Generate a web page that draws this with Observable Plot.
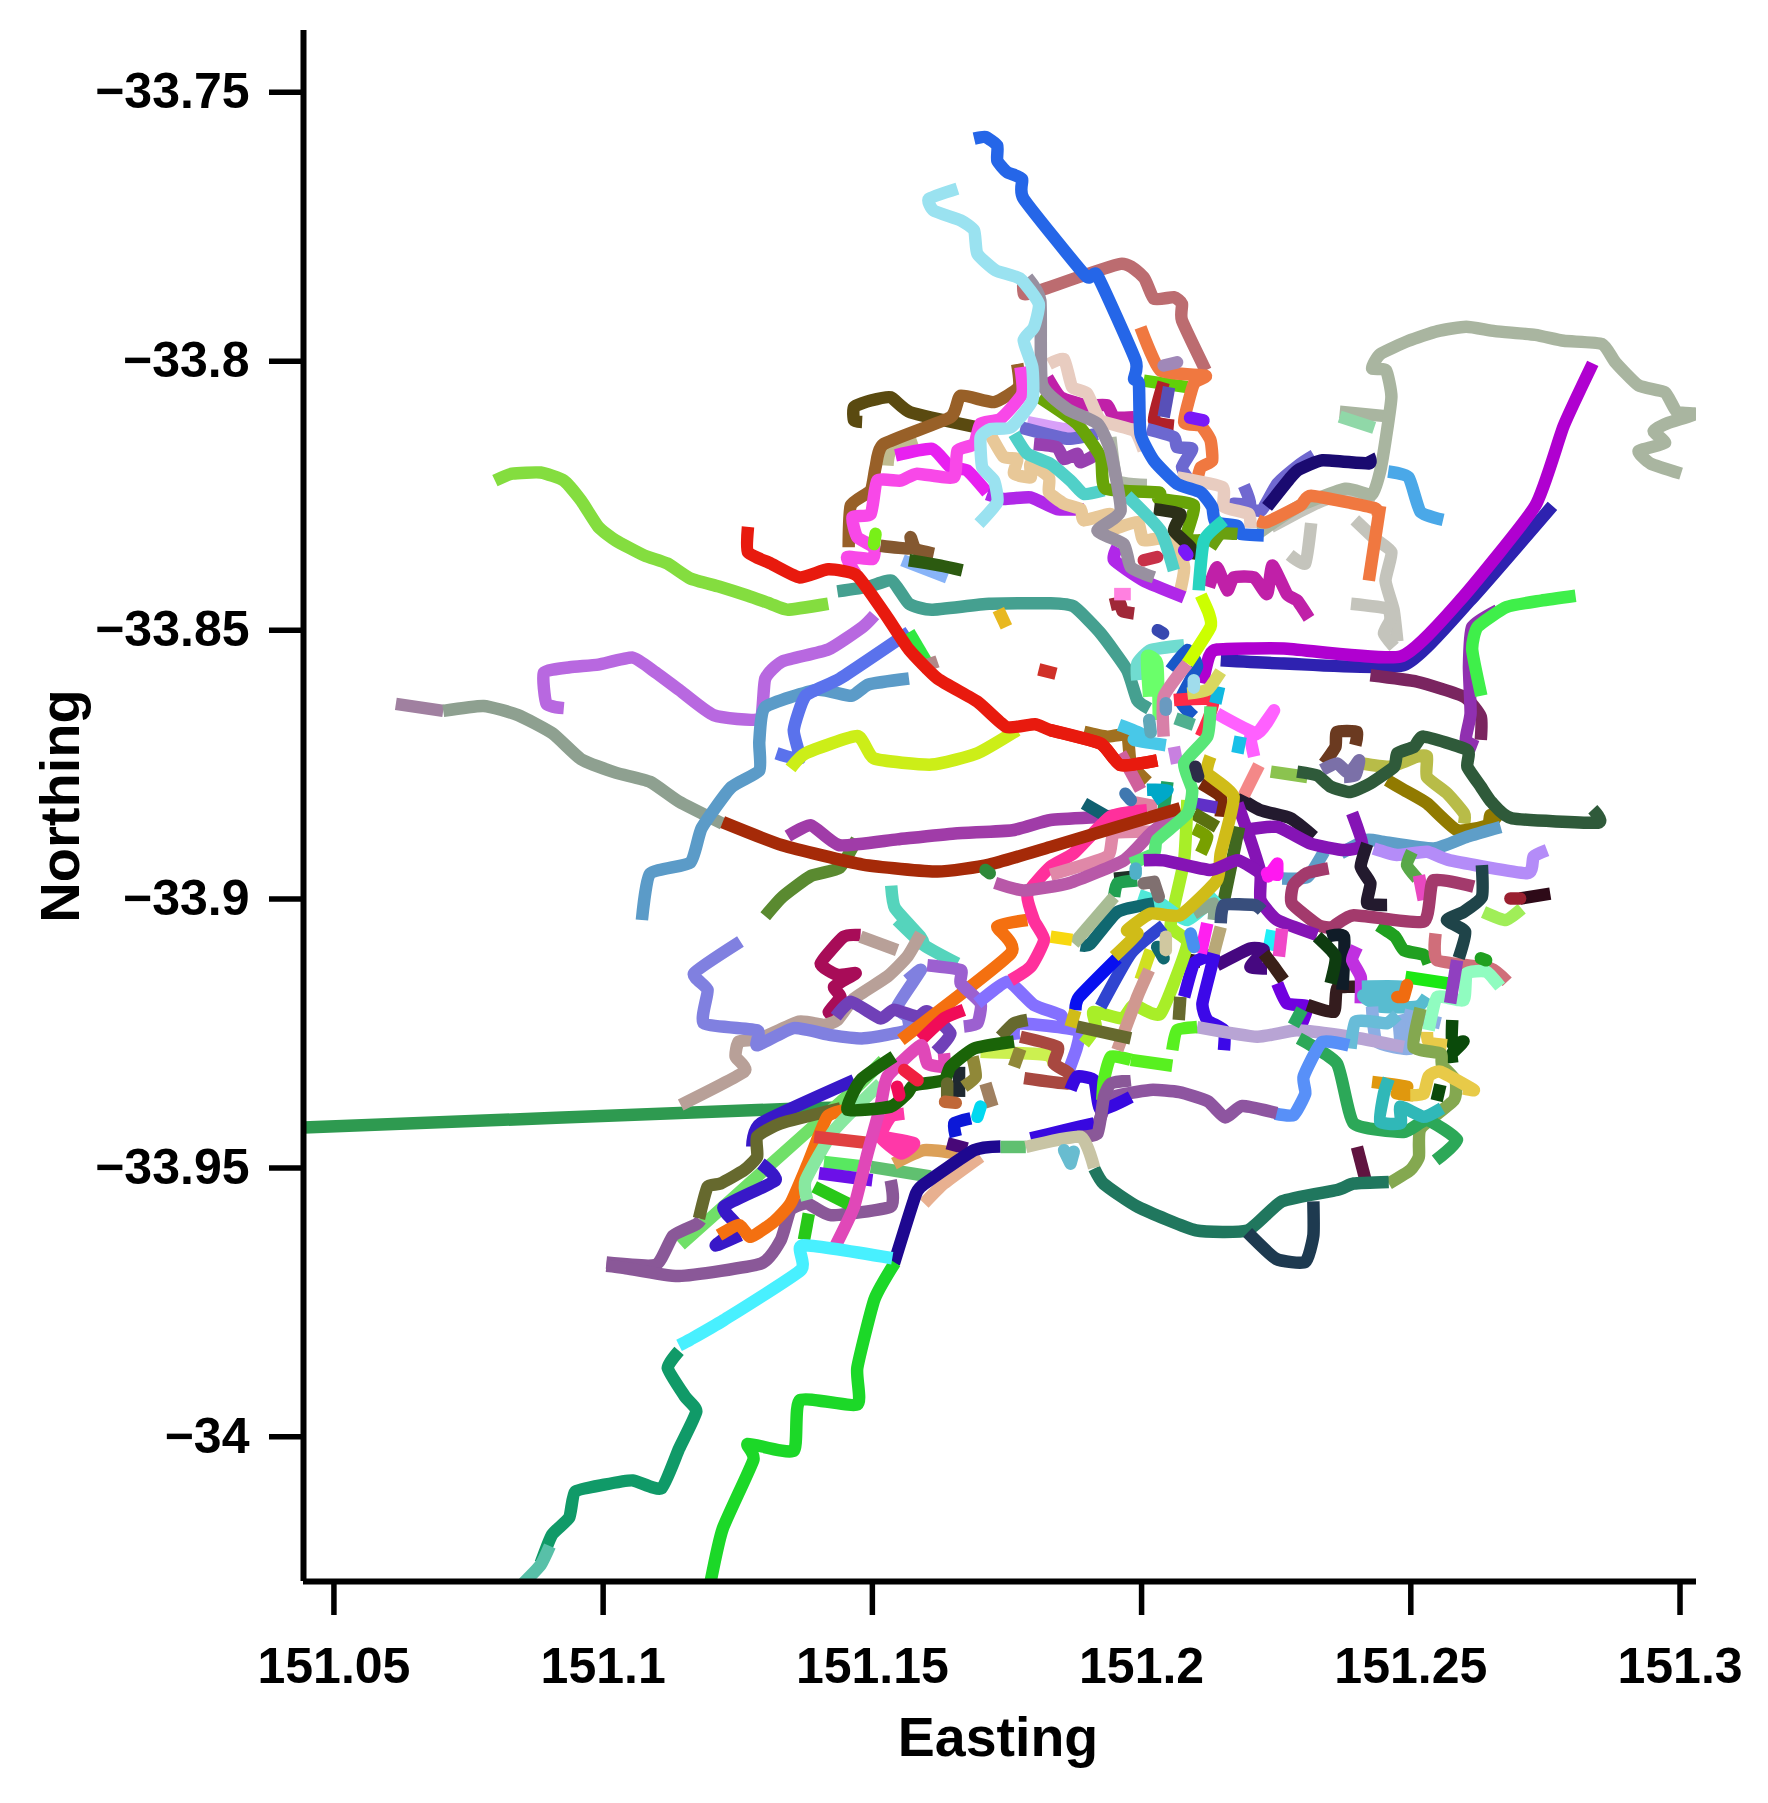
<!DOCTYPE html>
<html><head><meta charset="utf-8">
<style>html,body{margin:0;padding:0;background:#fff}svg{display:block}</style>
<script src="https://cdn.jsdelivr.net/npm/d3@7"></script>
<script src="https://cdn.jsdelivr.net/npm/@observablehq/plot@0.6"></script>
</head><body><div id="chart"></div>
<script>
// Route vertices, flat "e,n" pairs in milli-degrees: easting = 151 + e/1000, northing = -33 - n/1000
const xTicks=[151.05,151.1,151.15,151.2,151.25,151.3];
const yTicks=[-33.75,-33.8,-33.85,-33.9,-33.95,-34];
const xDomain=[151.04435,151.30306];
const yDomain=[-34.0269,-33.7385];

const westPoints=[
[61.5,863.7,70.3,865],
[70.3,865,77.8,864.1,84.2,865.8,90.6,869.2,95.9,874,102.3,876.5,108.7,878.2,114.1,881.9,122.2,886],
[79.9,822.2,83.1,820.9,88.4,820.7,92.7,822.2,95.9,825.9,99.1,830.8,102.3,833.3,107.6,836.1,111.9,837.6,116.2,840.4,121.5,841.9,126.9,843.6,131.1,845.1,134.3,846.2,141.8,845.1],
[92.7,864.5,89.5,863.7,89,857.9,93.8,856.9,99.1,856.4,105.5,855.1,109.8,857.9,114.1,861.1,120.5,865.8,129,866.5,130.1,859,133.3,855.8,141.8,853.6,148.2,849.4,150.4,847.2],
[143.5,842.8,149.3,841.9,153.6,840.8,156.8,845.1,161,846.2,171.7,845.1,183.1,845,187.4,845.6,192.4,850.6,197.3,857.4,199.2,863,201.4,864.6],
[107.2,903.9,108.7,895.3,116.2,893.2,118.3,886.8,123.7,879.3,129,876.1,129,870.7,130.1,864.3,139.7,861.1,146.1,862.2,149.3,860.1,156.8,859],
[132.2,872.9,136.5,873.9,135.4,868.6,137.6,862.2,144,859,156.8,850.4],
[156.8,850.4,160,855.8],
[134.8,875.7,137.6,872.9,147.2,869.7,150.4,873.9,161,875,169.5,872.9,176.9,868.6],
[158.9,856.9,162.1,855.8],
[44.4,942.5,137.5,938.9,147.1,939.1],
[130.1,903.2,133.3,899.6,138.6,895.7,143.9,894.2,147.1,888.9],
[134.3,888.3,138.6,886.3,143.9,890,154.6,888.9,165.3,887.8,176,887.2,183.1,885.3,193,884.7,198.4,884.2],
[171,894.6,171.8,895.2],
[173.4,846.2,174.9,849.4],
[180.9,857.3,184.1,858.1],
[194.2,845.3,196,845,196.5,846.5,198.6,846.9],
[203,850,204,850.6]
];
const westColors=["#A080A0","#8EA090","#84DD3F","#B868E0","#45A090","#5B9BC8","#5A72EC","#30E840","#CCEE18","#B08888","#2E9A50","#5A8A30","#A03CA8","#2E8A3A","#E8B820","#D03028","#A02838","#3848B0"];

const northPoints=[
[155.6,837,163.9,840.2],
[148.1,811.3,146.6,811,146.6,808.5,149.7,807.3,153.4,806.7,157.1,809.5,169.5,812.3],
[158.3,814.7,153.4,816.6,152.8,819.4],
[176.9,800.5,177.2,804.8,172.6,807.6,166.4,806.4,164.5,810.4,152.1,815.4,150.6,819.7,149.7,824,146,826.8,145.6,834.6],
[154.3,817.5,161.1,816.3,164.5,819.7,167.6,820.3,171.3,824.4],
[177.5,801.1,177.8,806.1,173.8,810.7,170.1,811.6,168.9,815.4,165.8,816.6,165.1,821.6,158.3,820.9,155.2,822.2,150.9,822.2,149.7,828.4,146.3,829,147.2,832.7,150.3,834.6,150,836.8,145.3,836.4,146.9,839.5],
[151.5,834.3,157.1,834.8,157.1,832.7,158,834.9,161.4,835.8],
[156.8,837,162.7,838,166.7,838.9],
[150.6,832.1,150.3,834],
[171.3,824.7,174.4,825.6,179.4,825.3,184.3,827.5,189.3,827.5],
[178.8,811.3,185.6,812.6,188.7,812.6],
[177.5,812.3,186.2,814.4,191.8,813.5],
[180,815.4,184.3,816,185.6,818.2,188,817.2,188.7,818.8,191.8,817.2],
[182.5,803,185,806.7,189.9,808.2,193.6,808.2,194.9,810.4,198.6,810.4],
[172,813.8,174.4,817.8,176.9,818.2,176.3,820.9,179.4,821.6,179.4,819.1,182.8,821.6,182.8,824.4,185.6,826.5,188.7,827.5,189.3,829.6,194.2,828.4,193.6,831.5,199.2,829.9,200.4,833.3,206,832.7,207.9,838.3,207.2,842.6],
[176.3,813.5,178.8,817.2,183.1,819.1,186.8,822.2,189.3,824.7,193,824],
[182.8,800.5,185.6,799.6,187.1,804.8,189.9,806,192.4,811,198.6,812.9,200.4,816.6],
[194.2,814.1,195.5,822.2,201,823],
[178.1,784.4,178.1,787.5,181.2,786.8,196.1,781.9,200.4,784.4,202.3,788.4,206,788.1,207.5,789.3,207.5,792.4,211.9,801.7],
[200.4,803.6,208.5,804.8],
[204.1,803.9,202.3,811,206,812],
[205.1,804.8,204.1,810.4],
[204.1,800.8,206.6,800.2],
[201,812.6,206,814.1,206.6,816,209.4,816.3,207.5,819.7,208.8,822.2],
[209,810.5,211.5,811],
[199.8,793.7,203.5,801.7,211.9,802.7,209.7,804.2,207.9,811.3,211,812,212.8,814.7,213.1,818.5,211,819.7,210.3,822.2],
[181,806.7,188,811.6,192.4,817.8,193.3,823.7,203.2,824.4,203.2,825.6,209.7,826.8,208.2,833,211,833.3],
[202.3,827.5,207.2,828.4,206,831.5,209.1,834.6,209.1,836.8],
[207.9,835.2,208.5,836],
[197.3,825,203.5,831.5,206,838.9],
[195.5,834.6,194.9,837,200.4,840.8,207.9,843.9],
[200.4,837,202.9,836.4],
[194.9,843.3,198,843.3],
[178.8,784.4,181.2,788.7,181.5,804.2,186.2,808.9,191.8,811.6,194.2,816.6,196.1,827.8,191.8,831.5,196.7,834,198,838.3,202.3,840.2],
[165.8,767.9,160.5,769.8,161.4,772,166.4,773.8,168.9,775.7,169.5,780,172.9,783.1,177.5,784.7,180.9,789.3,180,793.7,178.1,796.1,179.7,801.1,179.7,807.3,175.7,812.3,172,812.6,170.1,814.1,170.4,819.7,172.6,822.2,173.2,826.2,169.8,830.2],
[206.6,821.6,215,823.4,215.3,827.1,219.9,828.4,220.2,831],
[168.9,758.6,171,758.3,173.2,759.9,173.2,762.7,175,764.8,177.8,766.1,178.1,769.8,189.6,784.1,191.8,784.1,198.9,799.9,198.6,803.3,199.5,804.2,199.8,813.5,202.3,818.5,206.6,822.8,211,824.4,213.1,827.1,213.7,829.9,217.8,830.6,218.4,832.1,222.7,832.4],
[217.8,832.1,214.7,832.1,212.8,834.6],
[215.3,829.6,211.6,833.3,210.6,842.6]
];
const northColors=["#88B4F8","#5A4A10","#C0BC90","#986028","#E820F0","#F848E8","#845830","#2C5A10","#78F018","#B028E8","#D8A0F8","#6C68D0","#9840B0","#C020A8","#E8C898","#50D0C8","#E8CCC0","#B0B8A8","#BC6C70","#60D008","#B02028","#5850B8","#A088B8","#6C68D0","#7A18F8","#F07840","#68A408","#2C3018","#7A18F8","#50D0C8","#B028E8","#C83048","#FF80E0","#9890A0","#9AE2F0","#E8CCC0","#2566E8","#6AA010","#28D4C0"];

const northEastPoints=[
[236.8,809.4,245.3,810.2],
[236.8,810.3,243.2,812.4],
[224,830.8,229.3,828,233.6,825.9,236.8,825.2,243.2,826.5],
[239.6,829.5,243.2,832.9,246.4,835.5,245.3,840.8,246.8,846.2,247.5,852.1],
[238.9,845.1,245.6,846,246.2,848.1,245,850.6,246.9,853.1],
[231.5,830.1,230.4,837.6,227.5,836],
[245.8,820.5,249.6,821.6,251.8,828,256,829.5],
[221.9,831.8,229.3,826.9,237.9,823.7,242.8,824.8,244.3,820.5,245.4,814.1,246.4,806.6,245.4,801.7,242.8,801.3,244.3,798.7,249.6,796.2,255,794.4,260.3,793.6,265.6,794.4,273.1,795.1,278.4,796.2,285.5,796.8,288,800.2,292.3,804.5,297.2,805.8,299.4,809.4,303,809.8,297.7,811.5,295.1,813,297.2,815.2,292.3,816.7,294.5,819,300.2,820.9],
[219,823.1,220.2,826.5,217.1,826.5,222.1,827.8,225.2,822.8,229.5,819.1,232,817.5],
[223.3,827.1,227.7,821.6,229.3,820.1,233.6,818.4,242.2,819,242.2,817.5],
[221.5,829.6,223.3,829.9,229.5,826.8,231.5,825,243.2,827.3,243.8,829],
[244.3,826.9,242.2,840.8],
[212.5,842,214,838.3,215.9,842.6,217.1,840.2,220.9,840.2,223.3,843.3,224.3,838,227,843.3,228.9,844.5,231.1,847.8],
[261.1,844.4,276.3,826.9],
[214.7,855.6,226.4,856.2,248.7,856.5,261.1,844.4,276.3,826.9],
[211.3,859.9,212.5,855,214,853.6,226.4,853.4,248.1,854.9,259.2,844.4,273.1,826.9,278.4,812,283.8,800.4],
[242.5,858.4,251.2,859.6,259.9,862.4,263,866.1,263,870.4],
[266.1,846.3,261.4,849.4,260.8,856.8,261.1,865.5,260.2,870.4,262.3,871.7],
[280.6,843.6,274.2,844.5,267.8,845.7,262.4,849.4,261.4,853.6,263.1,862.2]
];
const northEastColors=["#A9B5A0","#90D8A8","#C4C4BC","#C4C4BC","#C4C4BC","#C4C4BC","#4AA8E8","#A9B5A0","#7068D0","#1A0A70","#F07840","#F07840","#C020A8","#B8E8F0","#2E22B0","#B000D0","#7A2560","#9030B0","#3FEF4A"];

const centrePoints=[
[207.9,852.8,201.7,853.7,199.2,856.2,199.2,859.3],
[205.4,857.4,208.5,853.7,210.3,856.8,207.2,863,209.7,866.1],
[201.4,862.4,201,854.9,202.9,856.2,203.2,866.7],
[208.5,856.2,204.1,862.4,204.1,869.8],
[206,863,213.4,863,211,869.8],
[214.4,860.5,213.7,863.6],
[214.7,857.7,212.2,861.1,208.5,861.8],
[209.7,859.3,209.7,860.7],
[206.3,866.4,209.7,867.6],
[189.3,868.9,193.6,869.8,197.3,869.5,198,874.8,201.1,878.2],
[196.1,872.9,199.8,879.7],
[197,880.4,198,881.6],
[198,881.9,202.9,882.8],
[204.8,878.2,204.1,883.5],
[201,879.7,204.8,879.7,202.3,881.6],
[214,865.5,221.5,869.2,224.6,864.9,221.5,869.2,220.2,869.8,220.9,873.5],
[218.4,869.8,217.8,872.9],
[221.8,875.1,219,880.7],
[210,875.4,210.5,877.2],
[211,878.5,214.7,881,214.7,884.7],
[209.7,882.2,214,883],
[209.7,884.1,214,886.6],
[209.7,886.9,212.2,888.4,211,891.5],
[183.1,868.6,192.4,871.1,196.1,875.1,202.9,874.2],
[126.9,830.8,126.9,835.5,131.1,837.6,136.5,840.2,141.8,838.7,147.1,839.8,152.5,847.2,156.8,853.6,162.1,859,169.5,863.3,174.9,868,180.2,867.5,183.1,868.6,192.4,871.1,196.1,875.1,202.9,874.2],
[195.8,867.6,199.8,869.2,198.6,870.4,204.5,871.4],
[201.4,866.7,201.7,869],
[204.5,863.6,204.5,864.8],
[206,871.7,206.6,874.8],
[189.3,882.2,193.6,884.7],
[175.7,915.1,179.4,912.6,181.9,907.6,180,903.9,178.8,899,183.1,894,187.4,891.5,194.2,884.7,201,883.5],
[183.1,895.5,193.6,892.1,194.9,887.8,201.7,887.5],
[172.8,897,178.1,898.4,186.6,897,196.7,892.8,201.7,887.8,207.2,883.5],
[122.2,885.7,133.3,890,148.2,893.6,162.1,894.9,171.7,893.6,183.1,890.3,207.2,883.1],
[208.5,881.6,207.9,892.8,205.4,904.9,208.5,908.3,203.5,921.3,198.6,919.7,196.4,922.2,191.1,921,191.5,923.8,189.3,926.9],
[212.8,864.2,212.2,869.8,207.9,874.8,209.4,879.7,208.5,884.1,202.9,889,202.3,891.5,198,893.4],
[198.9,894.3,198.9,895.3],
[208.5,856.2,212.8,849.4,212.5,846.9,211,843.5],
[194.9,896.2,198,895.9],
[194.9,899.6,195.5,897.1,199.2,896.5],
[200.4,897.1,202.3,896.8,203.2,899.6],
[218.1,886.6,215.3,900.2],
[199.5,899.3,203.5,900.8,208.5,903.9,214,899.3],
[209.7,902.7,213.4,900.8,213.4,903.9],
[214.7,904.5,215.3,901.1,220.9,901.1,222.4,902.1],
[202.3,900.8,195.5,902.4,190.5,908.3,188.7,908.6],
[194.9,899.6,187.4,908.3],
[183.1,907,187.1,907.6],
[201.7,909.5,199.8,915],
[201.4,913.2,199.2,918.2,195.5,928.1],
[204.1,904.9,198,910.1,192.4,920],
[195.5,911,188.4,918.2,187.7,920.7],
[187.7,920.7,186.8,923.8],
[194.9,910.7,199.2,906.4,197.3,905.8,201.7,902.7,207.2,903,214,896.5,214.7,891.5,217.1,881,212.2,876.6,212.8,873.5],
[202.9,908.9,204.1,911],
[204.5,907,204.5,909.5],
[209.1,906.4,209.7,908.9],
[214.7,905.2,213.4,910.1],
[212.2,904.5,211,910.1],
[207.2,918.2,206.9,922.5],
[188,923.7,198,925.9],
[200.4,892.8,204.1,892.8,212.8,894.6,217.8,892.8,222.1,895.2],
[223.3,895.2,225.2,895.5,225.2,893.4,223.5,895.8]
];
const centreColors=["#70DCD0","#1858C8","#6AFF6A","#D880A8","#FF2A48","#10B8E0","#D8D860","#A0DCEC","#50B090","#A07020","#D0609C","#4078B0","#E080A0","#20A060","#00A8C8","#FF60FF","#18C0E8","#F48888","#2C2C48","#7A2808","#6030C8","#5A7010","#78A000","#E81A0E","#E81A0E","#48C8E8","#60A8B8","#6A9AC0","#C880E0","#106070","#FF309C","#E088A8","#B858A8","#A52A08","#A8EE28","#58E678","#50B0C8","#CCFF00","#1F3228","#20A050","#807070","#406820","#50E8D8","#8CA890","#384E7C","#106870","#A8BC94","#F8D810","#D0E020","#D09890","#3044D0","#0810F0","#D0BC18","#D0BC18","#106870","#D0C8A0","#4890F0","#B8A878","#FF20F0","#66692E","#66692E","#8514B5","#FF18F0"];

const eastPoints=[
[224,876.3,230.8,877.3],
[241,874.8,246.2,875.4,251.2,873.5,253,873.5,253,877.3,256.8,880.4,259.9,884.1,259.9,886],
[233.9,874.8,236,871.7,236.3,868.9,240,868.9,239.7,871.4],
[233.5,876,236.3,874.8,238.5,876.6,240.4,874.2,239.7,877,237.6,877.3],
[245.6,877.9,248.7,879.7,253,882.2,258.6,887.2,264.2,886.3,264.8,884.4,266.7,885.6],
[228.9,876.3,232.6,877,235.1,879.1,238.8,880.1,242.5,878.5,246.9,875.4,247.5,872.9,250.6,871.7,252.4,869.8,260.5,872.3,260.5,875.4,263,879.1,265,882,268.8,885,284.8,885.8,283.8,883.3],
[266.7,886.6,260.5,888.4,254.3,890.6,245,889.4,241.9,889,237,891.5],
[233.9,891.2,230.8,895.9,226.1,896.2],
[217.8,881,222.1,883.5,227.7,885,232,888.4],
[243.1,890.6,247.4,891.8,253,891.2,257.3,892.8,271.6,895.2,272.8,892.1,275.3,890.9],
[219,887.2,225.2,886.6,231.4,889.7,237.6,890.9,241,890,239.1,884],
[241.9,889.7,240.7,894,242.5,897.1,241.9,900.8,245.6,901.1],
[250.2,891.2,249.3,893.7,251.2,896.2],
[251.5,895.6,252.4,900.2],
[244,904.9,247.1,907,248.7,909.5,252.4,910.4,253.3,912],
[263,911,264,911.4],
[234.7,894.3,230.7,895.2,228.2,897.4,227.9,900.8,232.9,904.9,235.4,905.2,239.4,903,252.4,904.2,254.2,896.5,261.7,897.7],
[254.6,906.4,254.9,911.4,264.8,912.9,267.9,915.4],
[263.2,893.7,263.2,899.6,259.8,902.4,256.7,903.9,260.1,906.1,258.9,911],
[263.5,902.4,267.6,903.9,270.6,901.8],
[268.5,899.9,270.3,899.9],
[270.3,899.9,275.9,899],
[217.8,882.2,220.2,889,222.1,895.2,222.1,900.2,225.2,903.9,232.6,906.7],
[224.3,905.8,223.6,909.5],
[226.1,905.5,225.5,910.7],
[207.6,911.1,211,911.7],
[214,912.3,220.2,909.2,222.7,909.5,220.2,912.6,223.3,912.9],
[222.7,910.1,224.6,912.6,226.4,915.1],
[225.2,915.7,227,919.4,230.8,920,229.5,923.8],
[207.9,918.2,209.7,912,212.2,910.7,213.4,910.7,211.3,919.4,212.2,922.5,215.3,924.4,215.3,928.1],
[230.8,919.7,235.7,921,236.3,916.6,240,916.3],
[234.5,907,237.6,907,237.3,916.9],
[232.6,907,236,910.7,235.1,915.7],
[240,908.9,239.1,911.4,240.7,914.5,240.7,919.4],
[249,914.5,257,915.7],
[249.3,916,248.7,918.2,247.5,918.2],
[240.9,916.3,248.1,916.3,248.1,918,241.2,917.9,244.3,920,251.2,920,253,918.2],
[242.8,920,243.7,926.5,249.9,927.8,248.7,921.3],
[247.7,921.9,248.1,926.9],
[248.7,921.5,255.5,923.1],
[210.3,923.8,221.5,925.6,228.9,924.4,238.8,925.6,248.7,927.5],
[238.8,927.8,239.7,922.8,243.1,922.8,245.6,923.1,247.5,921.5],
[253.3,924.4,254.9,918.2,259.8,918.8,260.4,913.8,264,913.5,266.6,916.3],
[228.2,923.5,229.8,920.5],
[258.6,911.4,257.3,919.4],
[257.7,922.5,257.7,926.9,259.8,926.5,257.7,928.7,257.7,930.5],
[253,924.7,253.3,926.6,256.7,927.2],
[251.8,920.3,250.5,927.5,255.5,928.7,255.8,930.9,258.3,933.7,258,937.4,251.8,942.7,251.5,947.9,249.9,950.4,245.9,952.9]
];
const eastColors=["#8BC34F","#B8BC48","#6B3A20","#7B70A8","#917A00","#2F5A3A","#5E9EC8","#5E9EC8","#231A2E","#B48CF8","#8514B5","#231A2E","#58A848","#E848C0","#20A020","#20A020","#A33A6C","#D06E7A","#1F4449","#A0EE58","#9A2030","#2E0A18","#8514B5","#20F0F8","#F048C8","#3A2018","#460880","#3A2018","#7000E0","#3C08E8","#341C1E","#101C28","#0E3C10","#C030E0","#1CE814","#F06C10","#58BCD0","#8CAEE4","#8CAEE4","#8CAEE4","#B8A4D4","#68BCD8","#90FCC0","#28A860","#9040C0","#0A4A0A","#E8CA48","#84A850"];

const southEastPoints=[
[229.2,925.9,236.3,930.6,239.4,941.7,248.7,943.3,253,941.1,258.6,944.8,254.6,948.6],
[238.5,927.2,233.5,926.6,230.1,933,230.4,936.2,228.2,940.2,224.8,939.9],
[225.1,939.8,218.7,938.5,215.5,940.6,212.3,937.6,207,935.9,201.6,935.5,194.1,937,192.1,941.3,189.8,943.4],
[242.8,934,249.3,934.9,247.4,936.2,250.5,936.5],
[259.8,935.2,261.7,935.5,255.5,932.1,253.3,933,252.4,936.2,249.9,936.5],
[255.5,934.5,254.8,937.5],
[245.9,933.4,245,936.2,244.3,941.4,248.1,941.7,248.1,938.6,252.4,940.5,255.8,938.9],
[240,946.1,241.6,952.3],
[191.2,950.1,193,953,199.4,957.3,210.1,961.6,219.7,961.6,226.1,956.2,236.3,954.1,239.4,952.9,245.9,952.6],
[219.7,962,225,966.9,230.4,967.5,231.9,962.6,231.9,956.2]
];
const southEastColors=["#2CA858","#5890F8","#8E55A0","#E0980E","#E8CA48","#0A4A0A","#30B8B8","#601440","#20775E","#1E3A50"];

const southPoints=[
[154.6,903.9,159.6,908.6,165.8,912],
[153.5,897.5,154.2,901.7,158.9,907,159.6,908.6],
[147.8,906.7,144.7,907,140.4,912,143.5,914.1,146.9,913.8,142.9,916.3,144.1,918.2,141.9,921,143.2,921.9],
[114.4,938.3,126.2,932.1,124.6,929.3,125.2,926.5,129,926,136.4,922.8,141,923.4,143.5,922.5,146.6,918.5,152.8,914.4,156.5,910.7,159,906.4],
[147.8,907,154.6,909.5],
[125.5,907.9,116.9,913.8,119.4,916.9,118.7,923.1,128.6,924.4,128.6,927.2,135.4,924,142.3,925.3,148.4,925.9,156.5,924.4,156.5,921.9,154.6,920,159,913.2,156.5,915.1],
[143.2,921.9,146,919.1,151.5,922.2,154,920.6,158.4,921.9,160.2,920.9,164.5,925,161.8,928.4],
[155.3,926.2,175.7,910.1,173.2,905.1,178.8,903.9],
[160.2,912.3,166.4,913.2,166.4,915.7,170.1,919.4,169.5,923.1,167,923.7],
[169.5,919.4,175.1,915.4,180,919.7,185,921.6,185.6,923.7],
[176.3,926.2,176.9,923.1,188,924.4,188,927.5,186.5,931.8],
[167,920.6,163.3,922.2,159,926.2],
[155.9,931.8,158.4,933.7],
[154.6,934.9,155,936.5],
[114.4,964.3,141,940.5,147.2,934.9,152,930],
[127.7,946,129.3,941.7,146.6,933.7],
[129.3,949.2,132,952.3,122.4,957.2,124.9,960.9,120.9,964.4,125.5,962.5],
[100.6,967.6,109.8,968,113,962.6,117.3,960.5,118.1,959.7],
[117.8,959.4,119.4,953.5,121.8,952.9,126.2,950.4,128.6,947.9,128.6,944.2,133,941.7,144.1,938.9],
[100.6,968.2,104,968.6,114.1,970.1,129.3,967.8,133,963.4,134.8,957.8,137.9,956.6,142.3,958.8,153.4,957.2,153.4,952.3],
[121.5,962.5,125.2,960.6,127.4,962.8,131.7,960,134.8,956.6,137.9,949.5,141.6,940.5,145.4,939.2],
[137.9,956,137.6,952.3,142.9,943,151.5,934.3],
[139.2,944.2,149.7,945.4],
[141,948.9,149.1,949.8],
[149.7,949.8,160.8,951.6],
[140.1,951,150,952.3],
[139.2,953.5,146,956.9],
[137.3,963.4,138.2,958.5],
[154,949.2,159.6,946.7,165.8,947.3],
[163.9,945.4,167.6,946.4],
[159.6,956.6,163.3,952.9,170.1,947.9],
[151.5,944.2,157.7,945.4,155.3,947.3,151.5,944.2,153.4,940.5,155.9,939.9],
[143.2,964.4,146.6,957.2,149.1,947.3,151.5,938.6,152.8,933,159,927.2,160.2,930.6,163.3,931.2,163.3,928.7],
[163.9,934.3,163.9,936.8],
[163.5,937.7,165.5,937.9],
[166.1,931.2,166.1,936.8],
[168.6,929.3,169.2,933,167,934.9],
[173.8,925.6,176.3,923.1,178.8,922.5],
[170.1,928.4,182.5,929,183.7,931],
[177.5,927.8,176.3,931.2],
[176.3,926.5,168.9,927.8,164.5,931.2,163.3,933.7,157.7,934.6,156.5,936.1,153.4,938.6,145.4,939.2,147.8,933.7,154,929.3],
[177.5,925.6,184.4,927.5,183.7,930.6,186.5,932.4,186.2,934.3,178.2,933.3],
[171,934.3,172.3,938.6],
[170.1,938.6,169.5,940.5],
[168.3,940.8,165.2,941.7,165.5,944.2],
[185.6,946.7,186.8,949.2,187.4,947],
[179.4,944.5,185.6,943,191.2,941.7],
[186.8,935.5,188,933,191.2,933.7,192.4,939.2,198,936.8],
[198,929.9,194.3,929.3,193,933.7,192.7,937.4],
[205.7,928.1,206.6,924.4,210.3,923.8],
[205.7,931,198,929.9],
[188,944.2,191.8,943.6,193,936.8,194.3,934.3,198,933.7],
[154,967.8,157.7,956,159,953.5,168.9,946.7,173.8,946],
[173.8,946.1,178.5,946.1],
[178.5,946.1,188.7,944.2,191.2,950],
[154.2,967.6,150.4,974.4,147.2,987.2,147.2,994,136.5,993.2,135.4,1002.6,126.9,1001.3,127.9,1004.3,122.2,1017.1,120,1026.7],
[114.1,984,112,987.2,115.2,992.5,117.3,995.3,114.1,1002.2,110.8,1009.6,105.5,1008.1,100.2,1008.9,94.8,1010.2,93.7,1015,90.5,1018.2,88.4,1023.5],
[90.1,1020.3,88.4,1023.8,85.2,1027.2],
[114.1,983,116.2,981.9,122.4,978.3,136.7,969,137,964.4,153.7,966.8]
];
const southColors=["#55D4BC","#55D4BC","#A80C58","#B8A098","#B8A098","#8080E0","#7040B8","#F47010","#9C60D0","#8470FF","#8470FF","#F00C58","#F02040","#F00C58","#70E068","#3818C8","#3818C8","#8A5898","#66692E","#8A5898","#F47010","#88E8A0","#E04040","#58E860","#60C070","#6C10E8","#28C818","#28C818","#DCA058","#480878","#E8B090","#FF38A8","#E048B8","#66692E","#C06838","#1E2830","#908838","#66692E","#CCF050","#908838","#1A6408","#A84840","#A08060","#00D8F0","#0C18D8","#68BCD0","#3808E0","#3808E0","#58F020","#58F020","#58F020","#8A5898","#1E0890","#60C070","#C8C4A4","#1CD828","#109A68","#58C0A8","#48F0FF"];

const routePoints=[...westPoints,...northEastPoints,...northPoints,...eastPoints,...southEastPoints,...southPoints,...centrePoints];
const routeColors=[...westColors,...northEastColors,...northColors,...eastColors,...southEastColors,...southColors,...centreColors];

const rows=routePoints.flatMap((pts,route)=>{
  const out=[];
  let spanE=[Infinity,-Infinity],spanN=[Infinity,-Infinity];
  for(let i=0;i<pts.length;i+=2){spanE=[Math.min(spanE[0],pts[i]),Math.max(spanE[1],pts[i])];spanN=[Math.min(spanN[0],pts[i+1]),Math.max(spanN[1],pts[i+1])];}
  const small=(spanE[1]-spanE[0])<3&&(spanN[1]-spanN[0])<3;
  for(let i=0;i<pts.length;i+=2) out.push({route,small,easting:151+pts[i]/1000,northing:-33-pts[i+1]/1000,color:routeColors[route]});
  return out;
});
const minusFmt=d=>String(d).replace("-","\u2212");
const fontBold={fontFamily:"'Liberation Sans',Arial,sans-serif",fontWeight:"bold"};

const chart=Plot.plot({
  width:1768,height:1803,
  marginLeft:303,marginRight:72,marginTop:30,marginBottom:222,
  style:{background:"#fff",fontFamily:"'Liberation Sans',Arial,sans-serif",overflow:"visible"},
  x:{domain:xDomain},
  y:{domain:yDomain},
  color:{type:"identity"},
  marks:[
    Plot.line(rows.filter(d=>!d.small),{x:"easting",y:"northing",z:"route",stroke:"color",strokeWidth:12.5,strokeLinejoin:"round",strokeLinecap:"butt",curve:"cardinal",tension:0.5,clip:true}),
    Plot.line(rows.filter(d=>d.small),{x:"easting",y:"northing",z:"route",stroke:"color",strokeWidth:12.5,strokeLinejoin:"round",strokeLinecap:"round",clip:true}),
    Plot.ruleX([xDomain[0]],{stroke:"#000",strokeWidth:6}),
    Plot.ruleY([yDomain[0]],{stroke:"#000",strokeWidth:6}),
    Plot.axisX(xTicks,{label:null,tickSize:34,tickPadding:32,tickFormat:minusFmt,fontSize:50,...fontBold,stroke:"#000",strokeWidth:5.5,color:"#000",strokeOpacity:1}),
    Plot.axisY(yTicks,{label:null,tickSize:34,tickPadding:20,tickFormat:minusFmt,fontSize:50,...fontBold,stroke:"#000",strokeWidth:5.5,color:"#000",strokeOpacity:1}),
    Plot.text(["Easting"],{text:d=>d,frameAnchor:"bottom",dx:-2,dy:174,fontSize:55.5,...fontBold,fill:"#000"}),
    Plot.text(["Northing"],{text:d=>d,frameAnchor:"left",dx:-242,rotate:-90,textAnchor:"middle",fontSize:56,...fontBold,fill:"#000"})
  ]
});
document.getElementById("chart").appendChild(chart);
</script></body></html>
